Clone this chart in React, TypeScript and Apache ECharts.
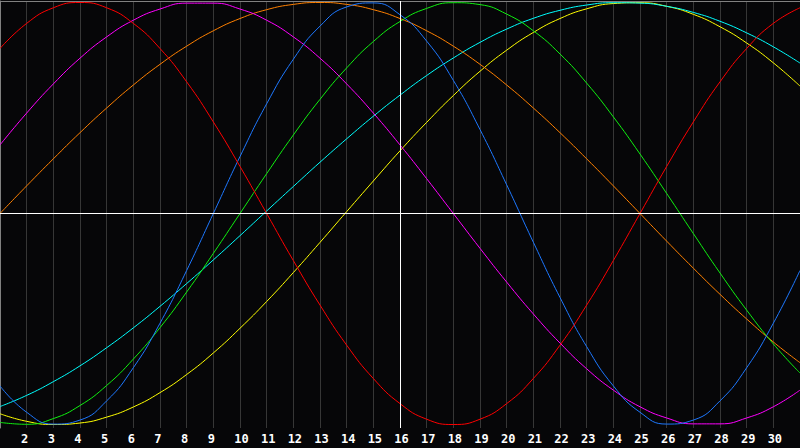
import React, { useEffect, useRef } from 'react';
import * as echarts from 'echarts';

// day of month, one point per day
const days = [1, 2, 3, 4, 5, 6, 7, 8, 9, 10, 11, 12, 13, 14, 15, 16, 17, 18, 19, 20, 21, 22, 23, 24, 25, 26, 27, 28, 29, 30, 31];
const tickLabels = [2, 3, 4, 5, 6, 7, 8, 9, 10, 11, 12, 13, 14, 15, 16, 17, 18, 19, 20, 21, 22, 23, 24, 25, 26, 27, 28, 29, 30];
const today = 16;

const red = [0.782, 0.901, 0.975, 1, 0.975, 0.901, 0.782, 0.624, 0.434, 0.223, 0, -0.223, -0.434, -0.624, -0.782, -0.901, -0.975, -1, -0.975, -0.901, -0.782, -0.624, -0.434, -0.223, 0, 0.223, 0.434, 0.624, 0.782, 0.901, 0.975];
const blue = [-0.817, -0.942, -0.998, -0.979, -0.888, -0.731, -0.52, -0.27, 0, 0.27, 0.52, 0.731, 0.888, 0.979, 0.998, 0.942, 0.817, 0.631, 0.398, 0.136, -0.136, -0.398, -0.631, -0.817, -0.942, -0.998, -0.979, -0.888, -0.731, -0.52, -0.27];
const green = [-0.99, -0.999, -0.972, -0.91, -0.815, -0.69, -0.541, -0.372, -0.189, 0, 0.189, 0.372, 0.541, 0.69, 0.815, 0.91, 0.972, 0.999, 0.99, 0.945, 0.866, 0.756, 0.618, 0.458, 0.282, 0.095, -0.095, -0.282, -0.458, -0.618, -0.756];
const magenta = [0.325, 0.476, 0.614, 0.736, 0.837, 0.916, 0.969, 0.997, 0.997, 0.969, 0.916, 0.837, 0.736, 0.614, 0.476, 0.325, 0.165, 0, -0.165, -0.325, -0.476, -0.614, -0.736, -0.837, -0.916, -0.969, -0.997, -0.997, -0.969, -0.916, -0.837];
const orange = [0, 0.131, 0.259, 0.383, 0.5, 0.609, 0.707, 0.793, 0.866, 0.924, 0.966, 0.991, 1, 0.991, 0.966, 0.924, 0.866, 0.793, 0.707, 0.609, 0.5, 0.383, 0.259, 0.131, 0, -0.131, -0.259, -0.383, -0.5, -0.609, -0.707];
const yellow = [-0.949, -0.985, -1, -0.993, -0.965, -0.917, -0.849, -0.763, -0.661, -0.544, -0.417, -0.28, -0.137, 0.009, 0.154, 0.297, 0.432, 0.559, 0.674, 0.774, 0.858, 0.924, 0.97, 0.995, 0.999, 0.982, 0.944, 0.885, 0.808, 0.714, 0.604];
const cyan = [-0.915, -0.862, -0.797, -0.722, -0.636, -0.542, -0.44, -0.332, -0.22, -0.105, 0.012, 0.128, 0.243, 0.354, 0.461, 0.561, 0.654, 0.737, 0.811, 0.874, 0.925, 0.963, 0.988, 0.999, 0.997, 0.982, 0.953, 0.911, 0.856, 0.79, 0.713];

const curves = [
  { name: 'yellow', color: '#ffff00', values: yellow },
  { name: 'cyan', color: '#00ffff', values: cyan },
  { name: 'orange', color: '#ff8000', values: orange },
  { name: 'magenta', color: '#ff00ff', values: magenta },
  { name: 'green', color: '#10f010', values: green },
  { name: 'blue', color: '#1e78ff', values: blue },
  { name: 'red', color: '#ff0000', values: red },
];

const LABEL_SHIFT = 0.214;
const labelFont = '"DejaVu Sans Mono", monospace';

const Biorhythm: React.FC = () => {
  const chartRef = useRef<HTMLDivElement>(null);

  useEffect(() => {
    document.body.style.margin = '0';
    document.body.style.background = '#060608';
    const chart = echarts.init(chartRef.current as HTMLDivElement, null, { renderer: 'svg' });

    const series: any[] = curves.map((c, i) => ({
      name: c.name,
      type: 'line',
      xAxisIndex: 0,
      data: days.map((d, k) => [d, c.values[k]]),
      smooth: true,
      showSymbol: false,
      silent: true,
      lineStyle: { color: c.color, width: 1 },
      emphasis: { disabled: true },
      markLine: i === 0 ? {
        silent: true,
        symbol: ['none', 'none'],
        label: { show: false },
        lineStyle: { color: '#ffffff', type: 'solid', width: 1 },
        data: [{ yAxis: 0 }, { xAxis: today }],
      } : undefined,
    }));

    chart.setOption({
      animation: false,
      backgroundColor: '#060608',
      grid: { left: 0, right: 0, top: 1, bottom: 20 },
      xAxis: [
        {
          type: 'value', min: 1, max: 31, interval: 1, position: 'bottom', offset: 0,
          axisLine: { show: true, lineStyle: { color: '#b4b4b4' } },
          axisTick: { show: false },
          axisLabel: { show: false },
          splitLine: { show: true, lineStyle: { color: '#363636', width: 1 } },
        },
        {
          type: 'value', min: 1 + LABEL_SHIFT, max: 31 + LABEL_SHIFT, position: 'bottom', offset: 0,
          axisLine: { show: false },
          axisTick: { show: false },
          splitLine: { show: false },
          axisLabel: {
            show: true,
            customValues: tickLabels,
            align: 'left',
            color: '#ffffff',
            fontWeight: 'bold',
            fontFamily: labelFont,
            fontSize: 12,
            margin: 5,
          },
        },
        {
          type: 'value', min: 1, max: 31, position: 'top', offset: 0,
          axisLine: { show: true, lineStyle: { color: '#808080' } },
          axisTick: { show: false },
          axisLabel: { show: false },
          splitLine: { show: false },
        },
      ],
      yAxis: {
        type: 'value', min: -1.0166, max: 1.0071,
        axisLine: { show: true, lineStyle: { color: '#808080' } },
        axisTick: { show: false },
        axisLabel: { show: false },
        splitLine: { show: false },
      },
      series,
    });

    return () => {
      chart.dispose();
    };
  }, []);

  return <div ref={chartRef} style={{ width: '800px', height: '448px', background: '#060608' }}></div>;
};

export default function App() {
  return <Biorhythm />;
}
